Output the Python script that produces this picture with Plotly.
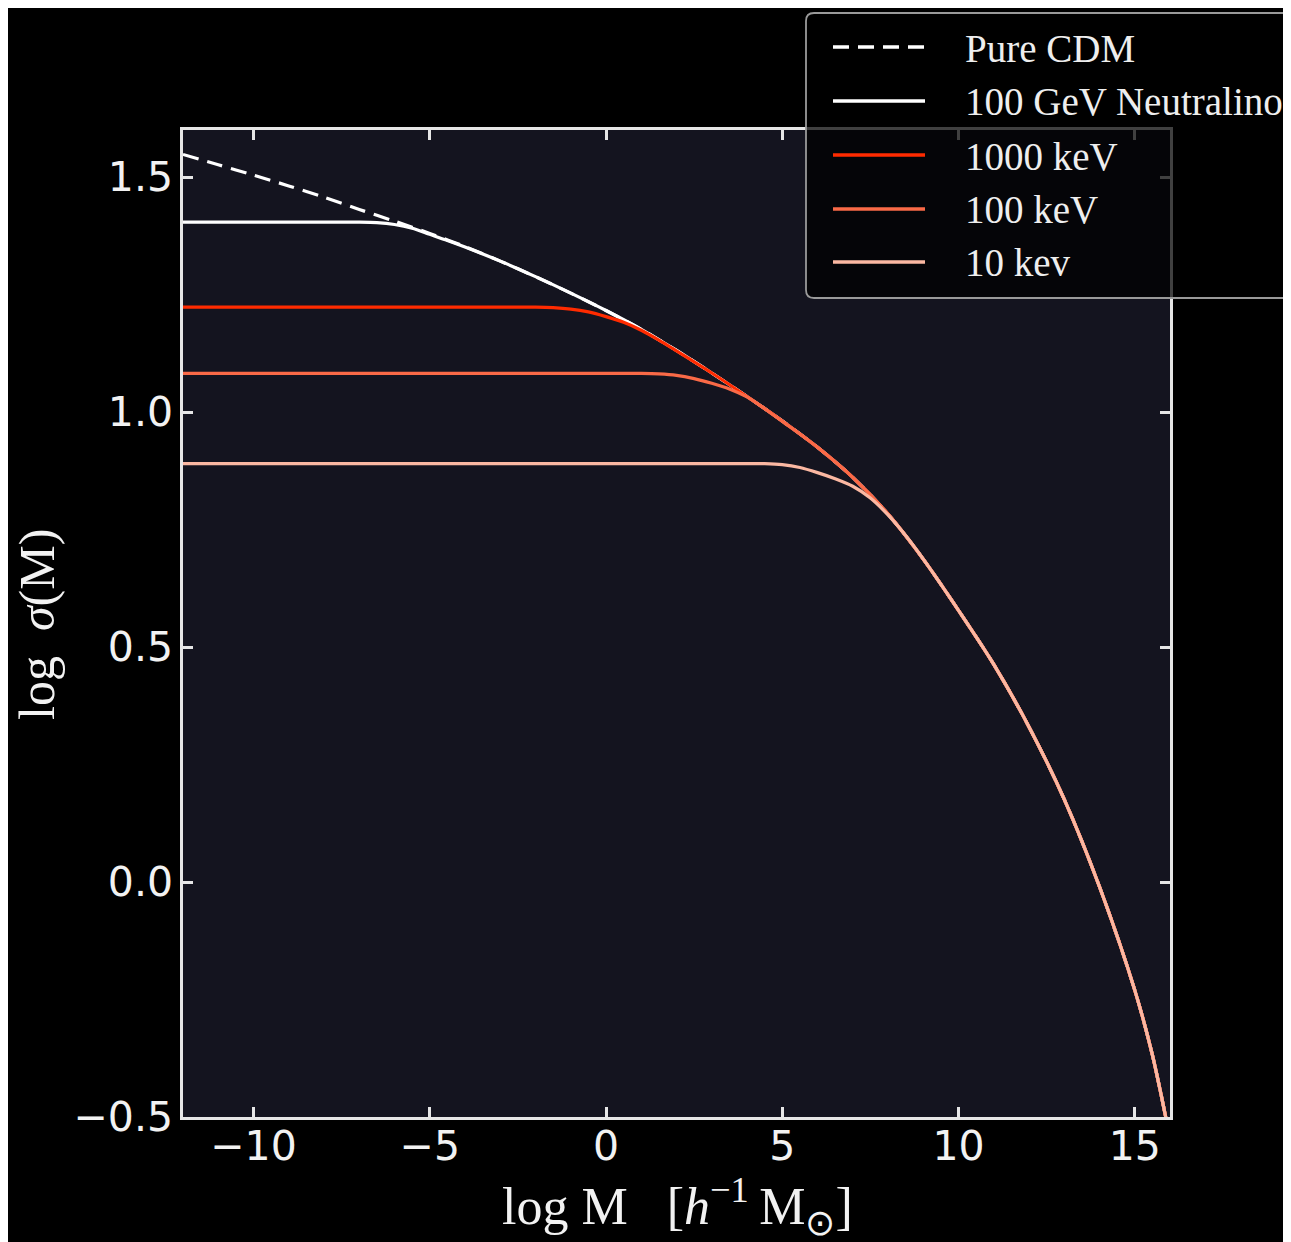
import plotly.graph_objects as go

# ---------------- data ----------------
cdm_x = [-12, -11, -10, -9, -8, -7, -6, -5, -4, -3, -2, -1, 0, 1, 2, 3, 4, 5, 6, 7, 8, 9, 10, 11, 12, 13, 14, 15, 15.5, 16]
cdm_y = [1.548, 1.526, 1.504, 1.481, 1.457, 1.431, 1.406, 1.380, 1.352, 1.321, 1.288, 1.253, 1.216, 1.176, 1.131,
         1.083, 1.033, 0.981, 0.925, 0.861, 0.783, 0.687, 0.578, 0.463, 0.330, 0.176, -0.010, -0.230, -0.368, -0.545]

neu_x = [-12, -11, -10, -9, -8, -7, -6.5, -6, -5.5, -5, -4.5, -4, -3, -2, -1, 0, 1, 2, 3, 4, 5, 6, 7, 8, 9, 10,
         11, 12, 13, 14, 15, 15.5, 16]
neu_y = [1.404, 1.404, 1.404, 1.404, 1.404, 1.404, 1.403, 1.399, 1.391, 1.378, 1.365, 1.351, 1.321, 1.288, 1.253,
         1.216, 1.176, 1.131, 1.083, 1.033, 0.981, 0.925, 0.861, 0.783, 0.687, 0.578, 0.463, 0.330, 0.176, -0.010,
         -0.230, -0.368, -0.545]

k1000_x = [-12, -11, -10, -9, -8, -7, -6, -5, -4, -3, -2, -1.5, -1, -0.5, 0, 0.5, 1, 1.5, 2, 3, 4, 5, 6, 7, 8, 9,
           10, 11, 12, 13, 14, 15, 15.5, 16]
k1000_y = [1.223, 1.223, 1.223, 1.223, 1.223, 1.223, 1.223, 1.223, 1.223, 1.223, 1.223, 1.222, 1.219, 1.213, 1.203,
           1.191, 1.174, 1.153, 1.130, 1.083, 1.033, 0.981, 0.925, 0.861, 0.783, 0.687, 0.578, 0.463, 0.330, 0.176,
           -0.010, -0.230, -0.368, -0.545]

k100_x = [-12, -11, -10, -9, -8, -7, -6, -5, -4, -3, -2, -1, 0, 1, 1.5, 2, 2.5, 3, 3.5, 4, 4.5, 5, 6, 7, 8, 9, 10,
          11, 12, 13, 14, 15, 15.5, 16]
k100_y = [1.082, 1.082, 1.082, 1.082, 1.082, 1.082, 1.082, 1.082, 1.082, 1.082, 1.082, 1.082, 1.082, 1.082, 1.081,
          1.078, 1.071, 1.061, 1.049, 1.032, 1.007, 0.980, 0.925, 0.861, 0.783, 0.687, 0.578, 0.463, 0.330, 0.176,
          -0.010, -0.230, -0.368, -0.545]

k10_x = [-12, -11, -10, -9, -8, -7, -6, -5, -4, -3, -2, -1, 0, 1, 2, 3, 4, 4.5, 5, 5.5, 6, 6.5, 7, 7.5, 8, 8.5, 9,
         10, 11, 12, 13, 14, 15, 15.5, 16]
k10_y = [0.890, 0.890, 0.890, 0.890, 0.890, 0.890, 0.890, 0.890, 0.890, 0.890, 0.890, 0.890, 0.890, 0.890, 0.890,
         0.890, 0.890, 0.890, 0.888, 0.882, 0.871, 0.858, 0.842, 0.817, 0.781, 0.737, 0.687, 0.578, 0.463, 0.330,
         0.176, -0.010, -0.230, -0.368, -0.545]

series_names = ["Pure CDM", "100 GeV Neutralino", "1000 keV", "100 keV", "10 kev"]
series_colors = ["#ffffff", "#ffffff", "#ff2b00", "#fa6a47", "#fbb8a2"]
series_dash = ["16px,9px", "solid", "solid", "solid", "solid"]
series_x = [cdm_x, neu_x, k1000_x, k100_x, k10_x]
series_y = [cdm_y, neu_y, k1000_y, k100_y, k10_y]

x_ticks = [-10, -5, 0, 5, 10, 15]
y_ticks = [-0.5, 0.0, 0.5, 1.0, 1.5]

# ---------------- figure ----------------
OFF = 8                      # page body margin
W, H = 1291 - OFF, 1242 - OFF
L, T = 183 - OFF, 130 - OFF
PW, PH = 987, 987
R = W - L - PW
B = H - T - PH

fig = go.Figure()
for nm, xs, ys, col, dsh in zip(series_names, series_x, series_y, series_colors, series_dash):
    fig.add_trace(go.Scatter(x=xs, y=ys, mode="lines", name=nm,
                             line=dict(color=col, width=3.2, dash=dsh, shape="spline", smoothing=0.8),
                             showlegend=False, hoverinfo="skip"))

tick_font = dict(family="DejaVu Sans", size=41, color="#f2f2f2")
axis_common = dict(showline=True, linecolor="#e6e6e6", linewidth=2.5, mirror="ticks",
                   ticks="inside", ticklen=10, tickwidth=2.5, tickcolor="#e6e6e6",
                   showgrid=False, zeroline=False, tickfont=tick_font)

fig.update_xaxes(range=[-12, 16], tickvals=x_ticks, tickformat="d", ticklabelstandoff=-9, **axis_common)
fig.update_yaxes(range=[-0.5, 1.6], tickvals=y_ticks, tickformat=".1f", ticklabelstandoff=-1, **axis_common)

# reference pixel -> paper coordinates
def px2x(px):
    return (px - OFF - L) / PW

def py2y(py):
    return (T + PH - (py - OFF)) / PH

# manual legend (box, samples, labels)
x0, x1 = px2x(806), px2x(1320)
y0, y1 = py2y(298), py2y(13)
r = 8 / PW
path = (f"M {x0+r},{y1} L {x1-r},{y1} Q {x1},{y1} {x1},{y1-r} L {x1},{y0+r} Q {x1},{y0} {x1-r},{y0} "
        f"L {x0+r},{y0} Q {x0},{y0} {x0},{y0+r} L {x0},{y1-r} Q {x0},{y1} {x0+r},{y1} Z")
shapes = [dict(type="path", path=path, xref="paper", yref="paper", layer="above",
               fillcolor="rgba(0,0,0,0.72)", line=dict(color="#9a9a9a", width=1.8))]
rows_py = [47, 101, 155, 209, 262]
annotations = []
for nm, col, dsh, rp in zip(series_names, series_colors, series_dash, rows_py):
    shapes.append(dict(type="line", xref="paper", yref="paper", layer="above",
                       x0=px2x(833), x1=px2x(925), y0=py2y(rp), y1=py2y(rp),
                       line=dict(color=col, width=3.5, dash=dsh)))
    annotations.append(dict(text=nm, xref="paper", yref="paper", x=px2x(963), y=py2y(rp + 1),
                            xanchor="left", yanchor="middle", showarrow=False,
                            font=dict(family="Liberation Serif", size=39, color="#eeeeee")))

annotations.append(dict(text="log M\u00a0\u00a0\u00a0[<i>h</i><sup>\u22121</sup>\u2009M<sub>\u2299</sub>]",
                        xref="paper", yref="paper", x=px2x(677), y=py2y(1206),
                        xanchor="center", yanchor="middle", showarrow=False,
                        font=dict(family="Liberation Serif", size=52, color="#f2f2f2")))
annotations.append(dict(text="log\u00a0\u00a0<i>\u03c3</i>(M)", textangle=-90,
                        xref="paper", yref="paper", x=px2x(37), y=py2y(625),
                        xanchor="center", yanchor="middle", showarrow=False,
                        font=dict(family="Liberation Serif", size=50, color="#f2f2f2")))

fig.update_layout(width=W, height=H, margin=dict(l=L, r=R, t=T, b=B, pad=0),
                  paper_bgcolor="#000000", plot_bgcolor="#14141f",
                  shapes=shapes, annotations=annotations, showlegend=False)

fig.write_html("out.html")
